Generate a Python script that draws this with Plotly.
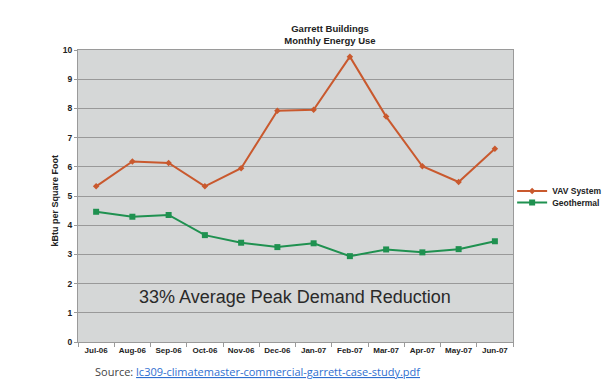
import plotly.graph_objects as go

months = ["Jul-06", "Aug-06", "Sep-06", "Oct-06", "Nov-06", "Dec-06",
          "Jan-07", "Feb-07", "Mar-07", "Apr-07", "May-07", "Jun-07"]
vav = [5.33, 6.18, 6.13, 5.33, 5.95, 7.92, 7.95, 9.77, 7.72, 6.02, 5.48, 6.62]
geo = [4.46, 4.29, 4.35, 3.66, 3.40, 3.25, 3.38, 2.94, 3.17, 3.07, 3.18, 3.45]
y_ticks = [0, 1, 2, 3, 4, 5, 6, 7, 8, 9, 10]

VAV_C = "#c9592e"
GEO_C = "#1f9150"
FONT = "Liberation Sans, Arial, sans-serif"

# page body adds an 8px offset; figure sized so it fits the 610x385 window
W, H = 602, 377

fig = go.Figure()
fig.add_trace(go.Scatter(x=months, y=vav, name="VAV System", mode="lines+markers",
                         line=dict(color=VAV_C, width=2),
                         marker=dict(symbol="diamond", size=5, color=VAV_C),
                         legend="legend"))
fig.add_trace(go.Scatter(x=months, y=geo, name="Geothermal", mode="lines+markers",
                         line=dict(color=GEO_C, width=2),
                         marker=dict(symbol="square", size=6, color=GEO_C),
                         legend="legend2"))

leg_common = dict(xanchor="left", yanchor="middle", bgcolor="rgba(0,0,0,0)",
                  font=dict(size=8.5, color="#222", family=FONT, weight="bold"),
                  itemwidth=30)

fig.update_layout(
    width=W, height=H,
    margin=dict(l=70, r=97, t=42, b=43, autoexpand=False),
    paper_bgcolor="white",
    plot_bgcolor="#d5d7d7",
    font=dict(family=FONT, color="#222"),
    title=dict(text="<b>Garrett Buildings<br>Monthly Energy Use</b>",
               x=322/W, xanchor="center", y=1-24/H, yanchor="middle",
               font=dict(size=9.5, color="#222", family=FONT)),
    showlegend=True,
    legend=dict(x=0.998, y=0.517, **leg_common),
    legend2=dict(x=0.998, y=0.478, **leg_common),
    xaxis=dict(type="category", range=[-0.5, 11.5], automargin=False,
               showgrid=False, showline=True, linecolor="#9a9a9a", linewidth=1,
               ticks="outside", ticklen=4, tickcolor="#9a9a9a",
               tickson="boundaries", tickangle=0,
               tickfont=dict(size=8, color="#222", family=FONT, weight="bold"),
               mirror=True),
    yaxis=dict(range=[0, 10], tickvals=y_ticks, showgrid=True, gridcolor="#999999",
               gridwidth=1, showline=True, linecolor="#9a9a9a", linewidth=1,
               ticks="outside", ticklen=3, tickcolor="#9a9a9a", mirror=True,
               automargin=False,
               tickfont=dict(size=8.5, color="#222", family=FONT, weight="bold"),
               zeroline=False),
)

fig.add_annotation(text="<b>kBtu per Square Foot</b>", xref="paper", yref="paper",
                   x=-0.052, y=0.486, xanchor="center", yanchor="middle",
                   textangle=-90, showarrow=False,
                   font=dict(size=9, color="#222", family=FONT))
fig.add_annotation(text="33% Average Peak Demand Reduction", xref="paper", yref="paper",
                   x=0.499, y=0.154, xanchor="center", yanchor="middle",
                   showarrow=False, font=dict(size=18, color="#2a2a2a", family=FONT))
fig.add_annotation(
    text="Source: <a href='lc309-climatemaster-commercial-garrett-case-study.pdf' "
         "style='color:#2f6fd0;text-decoration:underline'>lc309-climatemaster-commercial-garrett-case-study.pdf</a>",
    xref="paper", yref="paper", x=0.0345, y=-0.102,
    xanchor="left", yanchor="middle", showarrow=False,
    font=dict(size=11, color="#444", family="Open Sans, Liberation Sans, Arial"))

fig.write_html("out.html")
